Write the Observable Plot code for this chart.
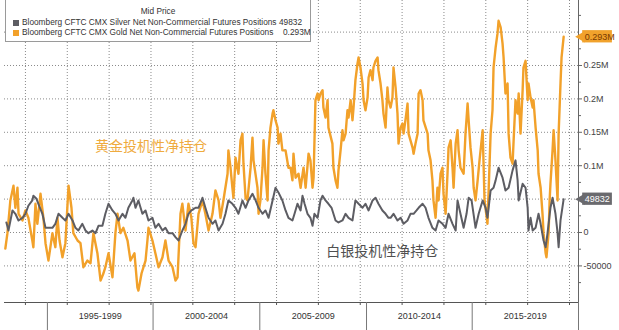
<!DOCTYPE html>
<html><head><meta charset="utf-8">
<script src="https://cdn.jsdelivr.net/npm/d3@7"></script>
<script src="https://cdn.jsdelivr.net/npm/@observablehq/plot@0.6"></script>
<style>
body{margin:0;background:#fff;}
#wrap{position:relative;width:619px;height:330px;font-family:"Liberation Sans",Arial,sans-serif;}
#legend{position:absolute;left:5px;top:-1px;width:306px;height:43px;border:1px solid #9a9a9a;border-top:none;background:#fff;box-sizing:border-box;font-size:8.3px;color:#333;}
#legend .title{position:absolute;left:0;width:100%;top:7px;text-align:center;}
#legend .row{position:absolute;left:7px;white-space:nowrap;}
#legend .sw{display:inline-block;width:6px;height:6px;margin-right:3px;vertical-align:-0.5px;}
#legend .val{position:absolute;white-space:nowrap;}
</style></head>
<body>
<div id="wrap"></div>
<script>
// CFTC CMX net non-commercial futures positions, thousands of contracts
const goldYear = [1993.04,1993.14,1993.28,1993.43,1993.52,1993.62,1993.67,1993.86,1994.00,1994.14,1994.33,1994.38,1994.48,1994.57,1994.72,1994.86,1994.96,1995.10,1995.29,1995.43,1995.53,1995.63,1995.77,1995.91,1996.06,1996.20,1996.29,1996.49,1996.63,1996.77,1996.96,1997.11,1997.25,1997.44,1997.59,1997.73,1997.82,1997.97,1998.16,1998.30,1998.40,1998.54,1998.68,1998.88,1999.02,1999.21,1999.35,1999.40,1999.55,1999.74,1999.83,1999.88,2000.07,2000.21,2000.36,2000.55,2000.69,2000.84,2001.03,2001.17,2001.27,2001.41,2001.50,2001.65,2001.79,2001.93,2002.03,2002.13,2002.27,2002.46,2002.60,2002.75,2002.94,2003.08,2003.23,2003.32,2003.46,2003.66,2003.70,2003.80,2003.89,2003.94,2004.04,2004.18,2004.28,2004.37,2004.42,2004.52,2004.61,2004.76,2004.85,2004.90,2005.09,2005.14,2005.23,2005.33,2005.38,2005.47,2005.57,2005.62,2005.71,2005.81,2005.85,2005.95,2006.05,2006.09,2006.19,2006.28,2006.43,2006.57,2006.67,2006.76,2006.81,2006.91,2007.05,2007.15,2007.29,2007.39,2007.53,2007.62,2007.72,2007.77,2007.86,2007.96,2008.01,2008.10,2008.20,2008.24,2008.34,2008.44,2008.48,2008.67,2008.72,2008.82,2008.91,2008.96,2009.06,2009.15,2009.20,2009.30,2009.39,2009.44,2009.54,2009.63,2009.68,2009.77,2009.87,2009.92,2010.01,2010.11,2010.16,2010.25,2010.35,2010.40,2010.49,2010.59,2010.63,2010.73,2010.83,2010.87,2010.97,2011.06,2011.11,2011.21,2011.30,2011.35,2011.45,2011.54,2011.59,2011.69,2011.78,2011.83,2011.93,2012.02,2012.07,2012.16,2012.26,2012.31,2012.40,2012.50,2012.55,2012.64,2012.74,2012.79,2012.88,2012.98,2013.02,2013.22,2013.26,2013.36,2013.45,2013.50,2013.60,2013.69,2013.74,2013.84,2013.93,2013.98,2014.08,2014.17,2014.22,2014.32,2014.41,2014.46,2014.56,2014.65,2014.70,2014.79,2014.94,2015.03,2015.13,2015.18,2015.27,2015.37,2015.42,2015.51,2015.61,2015.70,2015.85,2015.94,2016.08,2016.23,2016.32,2016.37,2016.47,2016.56,2016.61,2016.71,2016.80,2016.85,2016.94,2017.04,2017.09,2017.18,2017.28,2017.33,2017.42,2017.52,2017.57,2017.66,2017.76,2017.80,2017.90,2018.00,2018.04,2018.14,2018.24,2018.28,2018.38,2018.48,2018.52,2018.62,2018.71,2018.76,2018.86,2018.90,2019.00,2019.05,2019.09,2019.19,2019.24,2019.33,2019.43,2019.48,2019.57,2019.62,2019.72];
const goldNet = [-24,-1,48,70,37,67,28,18,33,22,-12,-22,43,13,58,22,-16,-42,-1,-22,22,-12,-37,-16,70,37,-1,-12,-16,-52,-42,-46,-1,-31,-72,-61,-52,-31,-67,-1,28,-1,7,-12,-42,-31,-82,-87,-61,-42,-12,7,-12,-31,-52,-37,-12,-42,-52,-72,-67,28,43,3,43,22,-16,-22,28,48,28,3,28,63,48,22,48,88,123,97,67,52,112,88,138,148,103,52,48,97,142,108,67,28,48,97,138,88,48,123,157,178,183,168,157,133,148,123,123,97,97,78,118,82,88,67,97,67,118,108,67,82,198,208,198,208,213,187,172,198,157,133,97,78,67,93,123,153,138,148,183,172,198,168,187,228,253,262,247,223,198,183,202,232,243,228,247,257,262,243,223,198,178,157,217,198,187,202,247,217,178,133,157,163,148,168,193,148,138,127,118,133,148,208,213,198,168,148,123,108,78,48,22,67,48,88,97,58,28,88,127,138,97,67,133,153,123,97,88,148,193,168,127,97,67,48,78,108,153,48,13,148,183,247,277,298,317,307,283,262,208,223,148,112,103,138,198,178,208,148,213,247,257,198,223,202,187,198,157,123,88,67,28,-1,-31,-37,-1,48,73,123,153,108,48,148,223,262,293];

const silverYear = [1993.09,1993.19,1993.38,1993.52,1993.67,1993.86,1994.00,1994.14,1994.33,1994.38,1994.52,1994.62,1994.81,1994.96,1995.10,1995.29,1995.43,1995.58,1995.77,1995.91,1996.06,1996.25,1996.39,1996.53,1996.72,1996.87,1997.01,1997.20,1997.35,1997.49,1997.68,1997.82,1997.97,1998.16,1998.30,1998.45,1998.64,1998.78,1998.92,1999.11,1999.16,1999.26,1999.40,1999.59,1999.74,1999.88,2000.07,2000.21,2000.36,2000.55,2000.69,2000.84,2001.03,2001.17,2001.32,2001.50,2001.65,2001.79,2001.93,2002.13,2002.27,2002.46,2002.60,2002.75,2002.94,2003.08,2003.23,2003.42,2003.56,2003.70,2003.89,2004.04,2004.18,2004.37,2004.52,2004.66,2004.85,2005.00,2005.14,2005.33,2005.47,2005.62,2005.81,2005.95,2006.09,2006.28,2006.43,2006.57,2006.76,2006.86,2007.00,2007.15,2007.24,2007.34,2007.48,2007.62,2007.72,2007.81,2007.96,2008.10,2008.20,2008.34,2008.48,2008.63,2008.82,2008.96,2009.15,2009.30,2009.44,2009.63,2009.77,2009.92,2010.11,2010.25,2010.40,2010.59,2010.73,2010.87,2011.06,2011.21,2011.35,2011.45,2011.59,2011.78,2011.93,2012.07,2012.26,2012.40,2012.55,2012.69,2012.79,2012.98,2013.12,2013.26,2013.45,2013.60,2013.74,2013.93,2014.08,2014.22,2014.41,2014.56,2014.65,2014.79,2014.94,2015.08,2015.18,2015.32,2015.51,2015.66,2015.85,2015.99,2016.08,2016.23,2016.37,2016.47,2016.61,2016.80,2016.94,2017.09,2017.28,2017.42,2017.52,2017.57,2017.76,2017.90,2018.00,2018.04,2018.14,2018.24,2018.38,2018.52,2018.62,2018.76,2018.86,2018.95,2019.09,2019.19,2019.33,2019.43,2019.48,2019.57,2019.72];
const silverNet = [15,3,33,28,18,22,28,40,48,55,51,43,28,7,7,7,13,28,22,18,28,18,7,3,13,3,-1,3,-1,10,10,28,43,33,28,18,28,22,37,48,52,37,48,28,33,18,22,7,13,3,7,-1,-1,-7,-12,3,13,28,33,37,37,52,37,22,13,18,3,13,28,48,43,37,28,48,37,48,58,48,37,28,33,22,48,67,60,48,33,22,18,28,43,33,55,43,28,22,10,28,22,48,55,48,43,37,18,15,18,28,22,18,48,43,37,43,33,48,52,43,33,28,22,22,28,18,22,13,18,28,28,33,37,43,37,22,7,3,18,13,7,28,13,3,48,28,7,28,52,48,7,28,48,37,22,63,67,78,97,82,63,67,93,108,78,48,73,67,37,3,22,3,7,28,13,-12,-22,-1,37,52,28,-1,-22,18,49.832];

// axis values (thousands of contracts) and x-axis labels
const yLabelTicks = [-50, 0, 100, 150, 200, 250];
const yMinorTicks = [-75, -25, 25, 75, 125, 175, 225, 275, 325];
const yGridTicks = [-50, 0, 50, 100, 150, 200, 250, 300];
const gridYears = [1994,1996,1998,2000,2002,2004,2006,2008,2010,2012,2014,2016,2018,2020];
const bandEdges = [1995.05, 2000.1, 2005.2, 2010.3, 2015.35, 2020.43];
const bandLabels = ["1995-1999","2000-2004","2005-2009","2010-2014","2015-2019"];

// last values and annotations
const lastValues = [
  {v: 293, label: "0.293M", box: "#f1a22c", ink: "#7a3a00"},
  {v: 49.832, label: "49832", box: "#6a6a6e", ink: "#ffffff"}
];
const notes = [
  {year: 2000.0, v: 129, text: "黄金投机性净持仓", color: "#efab3e"},
  {year: 2011.05, v: -28, text: "白银投机性净持仓", color: "#505050"}
];

const gold = goldYear.map((y, i) => ({year: y, v: goldNet[i]}));
const silver = silverYear.map((y, i) => ({year: y, v: silverNet[i]}));
const bandMids = bandLabels.map((_, i) => (bandEdges[i] + bandEdges[i + 1]) / 2);
const fmt = v => v === 0 ? "0" : v < 0 ? String(v * 1000) : (v / 1000) + "M";

const GOLD = "#f2a12a", SILVER = "#5d5d63";
const xMax = 2020.43;
// value tag boxes, just right of the axis (in axis units)
const boxStart = xMax + 0.2, boxEnd = xMax + 1.62, boxHalf = 9.2;

const chart = Plot.plot({
  width: 619, height: 330,
  marginLeft: 4, marginRight: 41, marginTop: 0, marginBottom: 28,
  style: {fontFamily: "Liberation Sans, Arial, sans-serif", background: "#fff"},
  x: {domain: [1993.0, xMax], label: null},
  y: {domain: [-104.8, 347.3], label: null},
  marks: [
    Plot.gridX(gridYears, {stroke: "#8a8a8a", strokeOpacity: 1, strokeDasharray: "1,2"}),
    Plot.gridY(yGridTicks, {stroke: "#8a8a8a", strokeOpacity: 1, strokeDasharray: "1,2"}),
    Plot.text(notes, {x: "year", y: "v", text: "text", fill: "color", fontSize: 14,
      fontFamily: "Noto Sans CJK SC"}),
    Plot.line(gold, {x: "year", y: "v", stroke: GOLD, strokeWidth: 2.4, strokeLinejoin: "round"}),
    Plot.line(silver, {x: "year", y: "v", stroke: SILVER, strokeWidth: 2, strokeLinejoin: "round"}),
    Plot.frame({anchor: "bottom", stroke: "#555"}),
    Plot.frame({anchor: "right", stroke: "#666"}),
    Plot.axisY({anchor: "right", ticks: yMinorTicks, tickSize: 2, tickFormat: () => "", stroke: "#666", label: null}),
    Plot.axisY({anchor: "right", ticks: yLabelTicks, tickSize: 3, tickPadding: 2, tickFormat: fmt,
      fontSize: 9, fill: "#444", stroke: "#666", label: null}),
    Plot.axisX({anchor: "bottom", ticks: gridYears, tickSize: 3, tickFormat: () => "", stroke: "#555", label: null}),
    Plot.axisX({anchor: "bottom", ticks: bandEdges, tickSize: 28, tickFormat: () => "", stroke: "#777", label: null}),
    Plot.axisX({anchor: "bottom", ticks: bandMids, tickSize: 0, tickPadding: 10,
      tickFormat: (d, i) => bandLabels[i], fontSize: 9, fill: "#333", label: null}),
    Plot.rect(lastValues, {x1: boxStart, x2: boxEnd, y1: d => d.v - boxHalf, y2: d => d.v + boxHalf,
      fill: d => d.box}),
    Plot.dot(lastValues, {x: boxStart, y: "v", symbol: "triangle", rotate: -90, r: 4.2, dx: -1,
      fill: d => d.box}),
    Plot.text(lastValues, {x: boxStart, y: "v", text: "label", fill: d => d.ink, dx: 2,
      textAnchor: "start", fontSize: 9})
  ]
});

document.getElementById("wrap").appendChild(chart);

// legend
const legend = document.createElement("div");
legend.id = "legend";
legend.innerHTML = `
  <div class="title">Mid Price</div>
  <div class="row" style="top:18px"><span class="sw" style="background:${SILVER}"></span>Bloomberg CFTC CMX Silver Net Non-Commercial Futures Positions</div>
  <div class="val" style="top:18px;left:273px">49832</div>
  <div class="row" style="top:28px"><span class="sw" style="background:${GOLD}"></span>Bloomberg CFTC CMX Gold Net Non-Commercial Futures Positions</div>
  <div class="val" style="top:28px;left:277px">0.293M</div>`;
document.getElementById("wrap").appendChild(legend);
</script>
</body></html>
